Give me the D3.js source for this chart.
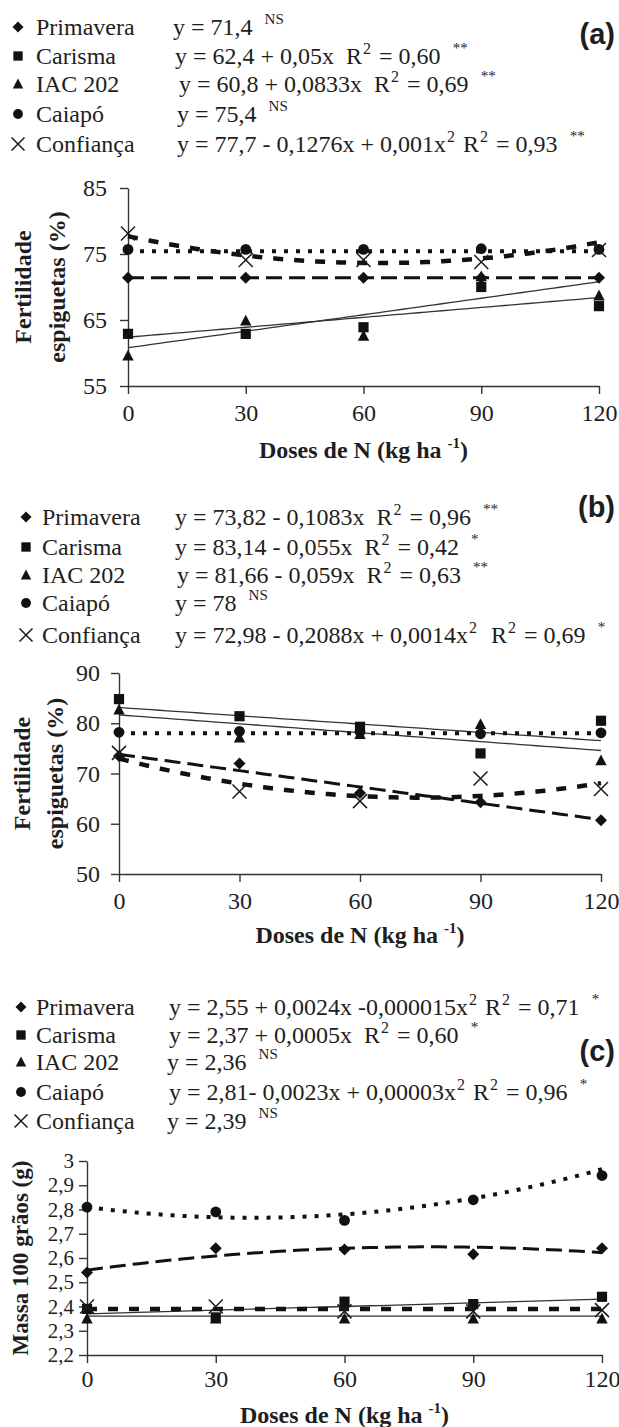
<!DOCTYPE html>
<html>
<head>
<meta charset="utf-8">
<script src="https://cdn.jsdelivr.net/npm/d3@7"></script>
<style>
body { margin: 0; background: #fff; }
text { font-family: "Liberation Serif", "Times New Roman", serif; fill: #1e1e1e; }
</style>
</head>
<body>
<script>
var doses = [0, 30, 60, 90, 120];
var cultivars = ["Primavera", "Carisma", "IAC 202", "Caiapó", "Confiança"];

// (a) Fertilidade espiguetas (%) - one row per cultivar
var fertA = [
  [71.4, 71.4, 71.4, 71.4, 71.4],
  [62.9, 62.9, 63.9, 70.0, 67.1],
  [59.6, 64.9, 62.6, 71.6, 68.7],
  [75.7, 75.7, 75.7, 75.8, 75.7],
  [78.1, 74.1, 74.1, 73.8, 75.6]
];
var coefA = [[71.4, 0, 0], [62.4, 0.05, 0], [60.8, 0.0833, 0], [75.4, 0, 0], [77.7, -0.1276, 0.001]];
var eqA = ["y = 71,4", "y = 62,4 + 0,05x  R{2} = 0,60", "y = 60,8 + 0,0833x  R{2} = 0,69",
           "y = 75,4", "y = 77,7 - 0,1276x + 0,001x{2} R{2} = 0,93"];
var sigA = ["NS", "**", "**", "NS", "**"];
var yTicksA = [55, 65, 75, 85];

// (b) Fertilidade espiguetas (%)
var fertB = [
  [73.5, 72.0, 66.1, 64.3, 60.7],
  [84.8, 81.4, 79.3, 74.0, 80.5],
  [82.7, 77.1, 77.8, 79.8, 72.6],
  [78.2, 78.4, 78.3, 77.9, 78.1],
  [74.1, 66.4, 64.5, 69.0, 66.9]
];
var coefB = [[73.82, -0.1083, 0], [83.14, -0.055, 0], [81.66, -0.059, 0], [78, 0, 0], [72.98, -0.2088, 0.0014]];
var eqB = ["y = 73,82 - 0,1083x  R{2} = 0,96", "y = 83,14 - 0,055x  R{2} = 0,42",
           "y = 81,66 - 0,059x  R{2} = 0,63", "y = 78",
           "y = 72,98 - 0,2088x + 0,0014x{2}  R{2} = 0,69"];
var sigB = ["**", "*", "**", "NS", "*"];
var yTicksB = [50, 60, 70, 80, 90];

// (c) Massa 100 grãos (g)
var massC = [
  [2.54, 2.64, 2.635, 2.615, 2.64],
  [2.39, 2.355, 2.42, 2.41, 2.44],
  [2.35, 2.35, 2.35, 2.35, 2.35],
  [2.81, 2.79, 2.755, 2.84, 2.94],
  [2.40, 2.40, 2.38, 2.38, 2.385]
];
var coefC = [[2.55, 0.0024, -0.000015], [2.37, 0.0005, 0], [2.36, 0, 0], [2.81, -0.0023, 0.00003], [2.39, 0, 0]];
var eqC = ["y = 2,55 + 0,0024x -0,000015x{2} R{2} = 0,71", "y = 2,37 + 0,0005x  R{2} = 0,60",
           "y = 2,36", "y = 2,81- 0,0023x + 0,00003x{2} R{2} = 0,96", "y = 2,39"];
var sigC = ["*", "*", "NS", "*", "NS"];
var yTicksC = [2.2, 2.3, 2.4, 2.5, 2.6, 2.7, 2.8, 2.9, 3];

var svg = d3.select("body").append("svg")
    .attr("width", 619)
    .attr("height", 1427);

var br = d3.formatLocale({decimal: ",", thousands: ".", grouping: [3], currency: ["", ""]});

// line look per cultivar
var lineStyle = [
  {w: 3, dash: "16,7"},
  {w: 1.3, dash: null},
  {w: 1.3, dash: null},
  {w: 4, dash: "4,8"},
  {w: 4.5, dash: "10,11"}
];
var drawOrder = [1, 2, 3, 0, 4];

function symbolPath(i, s) {
  var h = s / 2;
  if (i == 0) return "M0," + (-h) + "L" + h + ",0L0," + h + "L" + (-h) + ",0Z";
  if (i == 1) { var q = h * 0.85; return "M" + (-q) + "," + (-q) + "H" + q + "V" + q + "H" + (-q) + "Z"; }
  if (i == 2) return "M0," + (-h) + "L" + (h * 0.95) + "," + (h * 0.8) + "L" + (-h * 0.95) + "," + (h * 0.8) + "Z";
  if (i == 3) { var r = h * 0.9; return "M" + r + ",0A" + r + "," + r + " 0 1,1 " + (-r) + ",0A" + r + "," + r + " 0 1,1 " + r + ",0Z"; }
  return "M" + (-h) + "," + (-h) + "L" + h + "," + h + "M" + h + "," + (-h) + "L" + (-h) + "," + h;
}

function drawSymbol(g, i, cx, cy, s) {
  var p = g.append("path")
      .attr("d", symbolPath(i, s))
      .attr("transform", "translate(" + cx + "," + cy + ")");
  if (i == 4) p.attr("fill", "none").attr("stroke", "#1a1a1a").attr("stroke-width", 1.5);
  else p.attr("fill", "#111");
}

function writeEq(t, s, sig) {
  var parts = s.split(/(\{[^}]*\})/);
  var up = 0;
  parts.forEach(function(p) {
    if (!p) return;
    if (p[0] == "{") {
      t.append("tspan").attr("font-size", 16).attr("dx", 1).attr("dy", -10 - up).text(p.slice(1, -1));
      up = -10;
    } else {
      t.append("tspan").attr("dx", up ? 2 : 0).attr("dy", -up).text(p);
      up = 0;
    }
  });
  t.append("tspan").attr("dy", -up).attr("dx", 6).text(" ");
  t.append("tspan").attr("font-size", 15).attr("dy", -11).text(sig);
}

function legend(o) {
  var g = svg.append("g");
  cultivars.forEach(function(c, i) {
    var by = o.base[i];
    drawSymbol(g, i, o.symX, by - 8, i == 4 ? 13 : 11);
    g.append("text").attr("x", o.nameX).attr("y", by).attr("font-size", 24).text(c);
    var t = g.append("text").attr("x", o.eqX[i]).attr("y", by)
        .attr("font-size", 24).style("white-space", "pre");
    writeEq(t, o.eq[i], o.sig[i]);
  });
  svg.append("text")
      .attr("x", 615).attr("y", o.tagY)
      .attr("text-anchor", "end")
      .style("font-family", '"Liberation Sans", Arial, sans-serif')
      .style("font-weight", "bold")
      .attr("font-size", 29)
      .text(o.tag);
}

function plot(o) {
  var x = d3.scaleLinear().domain([0, 120]).range([o.x0, o.x1]);
  var y = d3.scaleLinear().domain([o.ticks[0], o.ticks[o.ticks.length - 1]]).range([o.yBot, o.yTop]);
  var g = svg.append("g");

  var xa = g.append("g")
      .attr("transform", "translate(0," + o.yBot + ")")
      .call(d3.axisBottom(x).tickValues(doses).tickSize(8).tickSizeOuter(0).tickPadding(o.xPad));
  var ya = g.append("g")
      .attr("transform", "translate(" + o.x0 + ",0)")
      .call(d3.axisLeft(y).tickValues(o.ticks).tickSize(8).tickSizeOuter(0)
          .tickPadding(o.yPad).tickFormat(br.format(".1~f")));
  [xa, ya].forEach(function(a) {
    a.attr("font-family", null).attr("font-size", null);
    a.selectAll(".domain, line").attr("stroke", "#333").attr("stroke-width", 1.4);
    a.selectAll("text").attr("font-size", 24).attr("fill", "#222");
  });
  ya.selectAll("text").attr("font-size", o.yTickFont);

  // fitted curves
  var xs = d3.range(0, 121, 2);
  drawOrder.forEach(function(i) {
    var c = o.coef[i];
    var line = d3.line()
        .x(function(d) { return x(d); })
        .y(function(d) { return y(c[0] + c[1] * d + c[2] * d * d); });
    var p = g.append("path").datum(xs)
        .attr("d", line)
        .attr("fill", "none")
        .attr("stroke", i == 1 || i == 2 ? "#333" : "#111")
        .attr("stroke-width", lineStyle[i].w);
    if (lineStyle[i].dash) p.attr("stroke-dasharray", lineStyle[i].dash);
  });

  // points
  [3, 2, 1, 0, 4].forEach(function(i) {
    o.values[i].forEach(function(v, k) {
      drawSymbol(g, i, x(doses[k]), y(v), i == 4 ? 14 : 12);
    });
  });

  // axis titles
  var xt = g.append("text")
      .attr("x", (o.x0 + o.x1) / 2).attr("y", o.xTitleY)
      .attr("text-anchor", "middle")
      .attr("font-size", 24).attr("font-weight", "bold")
      .style("white-space", "pre");
  xt.append("tspan").text("Doses de N (kg ha ");
  xt.append("tspan").attr("font-size", 15).attr("dy", -10).text("-1");
  xt.append("tspan").attr("dy", 10).text(")");

  var yc = (o.yTop + o.yBot) / 2;
  o.yTitle.forEach(function(s, j) {
    g.append("text")
        .attr("transform", "translate(" + o.yTitleX[j] + "," + yc + ") rotate(-90)")
        .attr("text-anchor", "middle")
        .attr("font-size", o.yTitleFont)
        .attr("font-weight", "bold")
        .text(s);
  });
}

legend({symX: 18, nameX: 36, eqX: [173, 175, 179, 177, 177], base: [35, 64, 92, 122, 152],
        eq: eqA, sig: sigA, tag: "(a)", tagY: 44});
plot({x0: 128, x1: 599, yTop: 188, yBot: 386, ticks: yTicksA, values: fertA, coef: coefA,
      xPad: 10, yPad: 13, yTickFont: 24, xTitleY: 458, yTitle: ["Fertilidade", "espiguetas (%)"],
      yTitleX: [31, 65], yTitleFont: 24});

legend({symX: 26, nameX: 42, eqX: [175, 175, 177, 175, 175], base: [525, 555, 583, 611, 643],
        eq: eqB, sig: sigB, tag: "(b)", tagY: 517});
plot({x0: 119, x1: 601, yTop: 673, yBot: 874, ticks: yTicksB, values: fertB, coef: coefB,
      xPad: 10, yPad: 11, yTickFont: 24, xTitleY: 943, yTitle: ["Fertilidade", "espiguetas (%)"],
      yTitleX: [30, 63], yTitleFont: 24});

legend({symX: 21, nameX: 36, eqX: [169, 169, 167, 169, 167], base: [1015, 1043, 1070, 1100, 1129],
        eq: eqC, sig: sigC, tag: "(c)", tagY: 1061});
plot({x0: 87, x1: 602, yTop: 1161, yBot: 1355, ticks: yTicksC, values: massC, coef: coefC,
      xPad: 7, yPad: 5, yTickFont: 21, xTitleY: 1423, yTitle: ["Massa 100 grãos (g)"],
      yTitleX: [28], yTitleFont: 23});
</script>
</body>
</html>
